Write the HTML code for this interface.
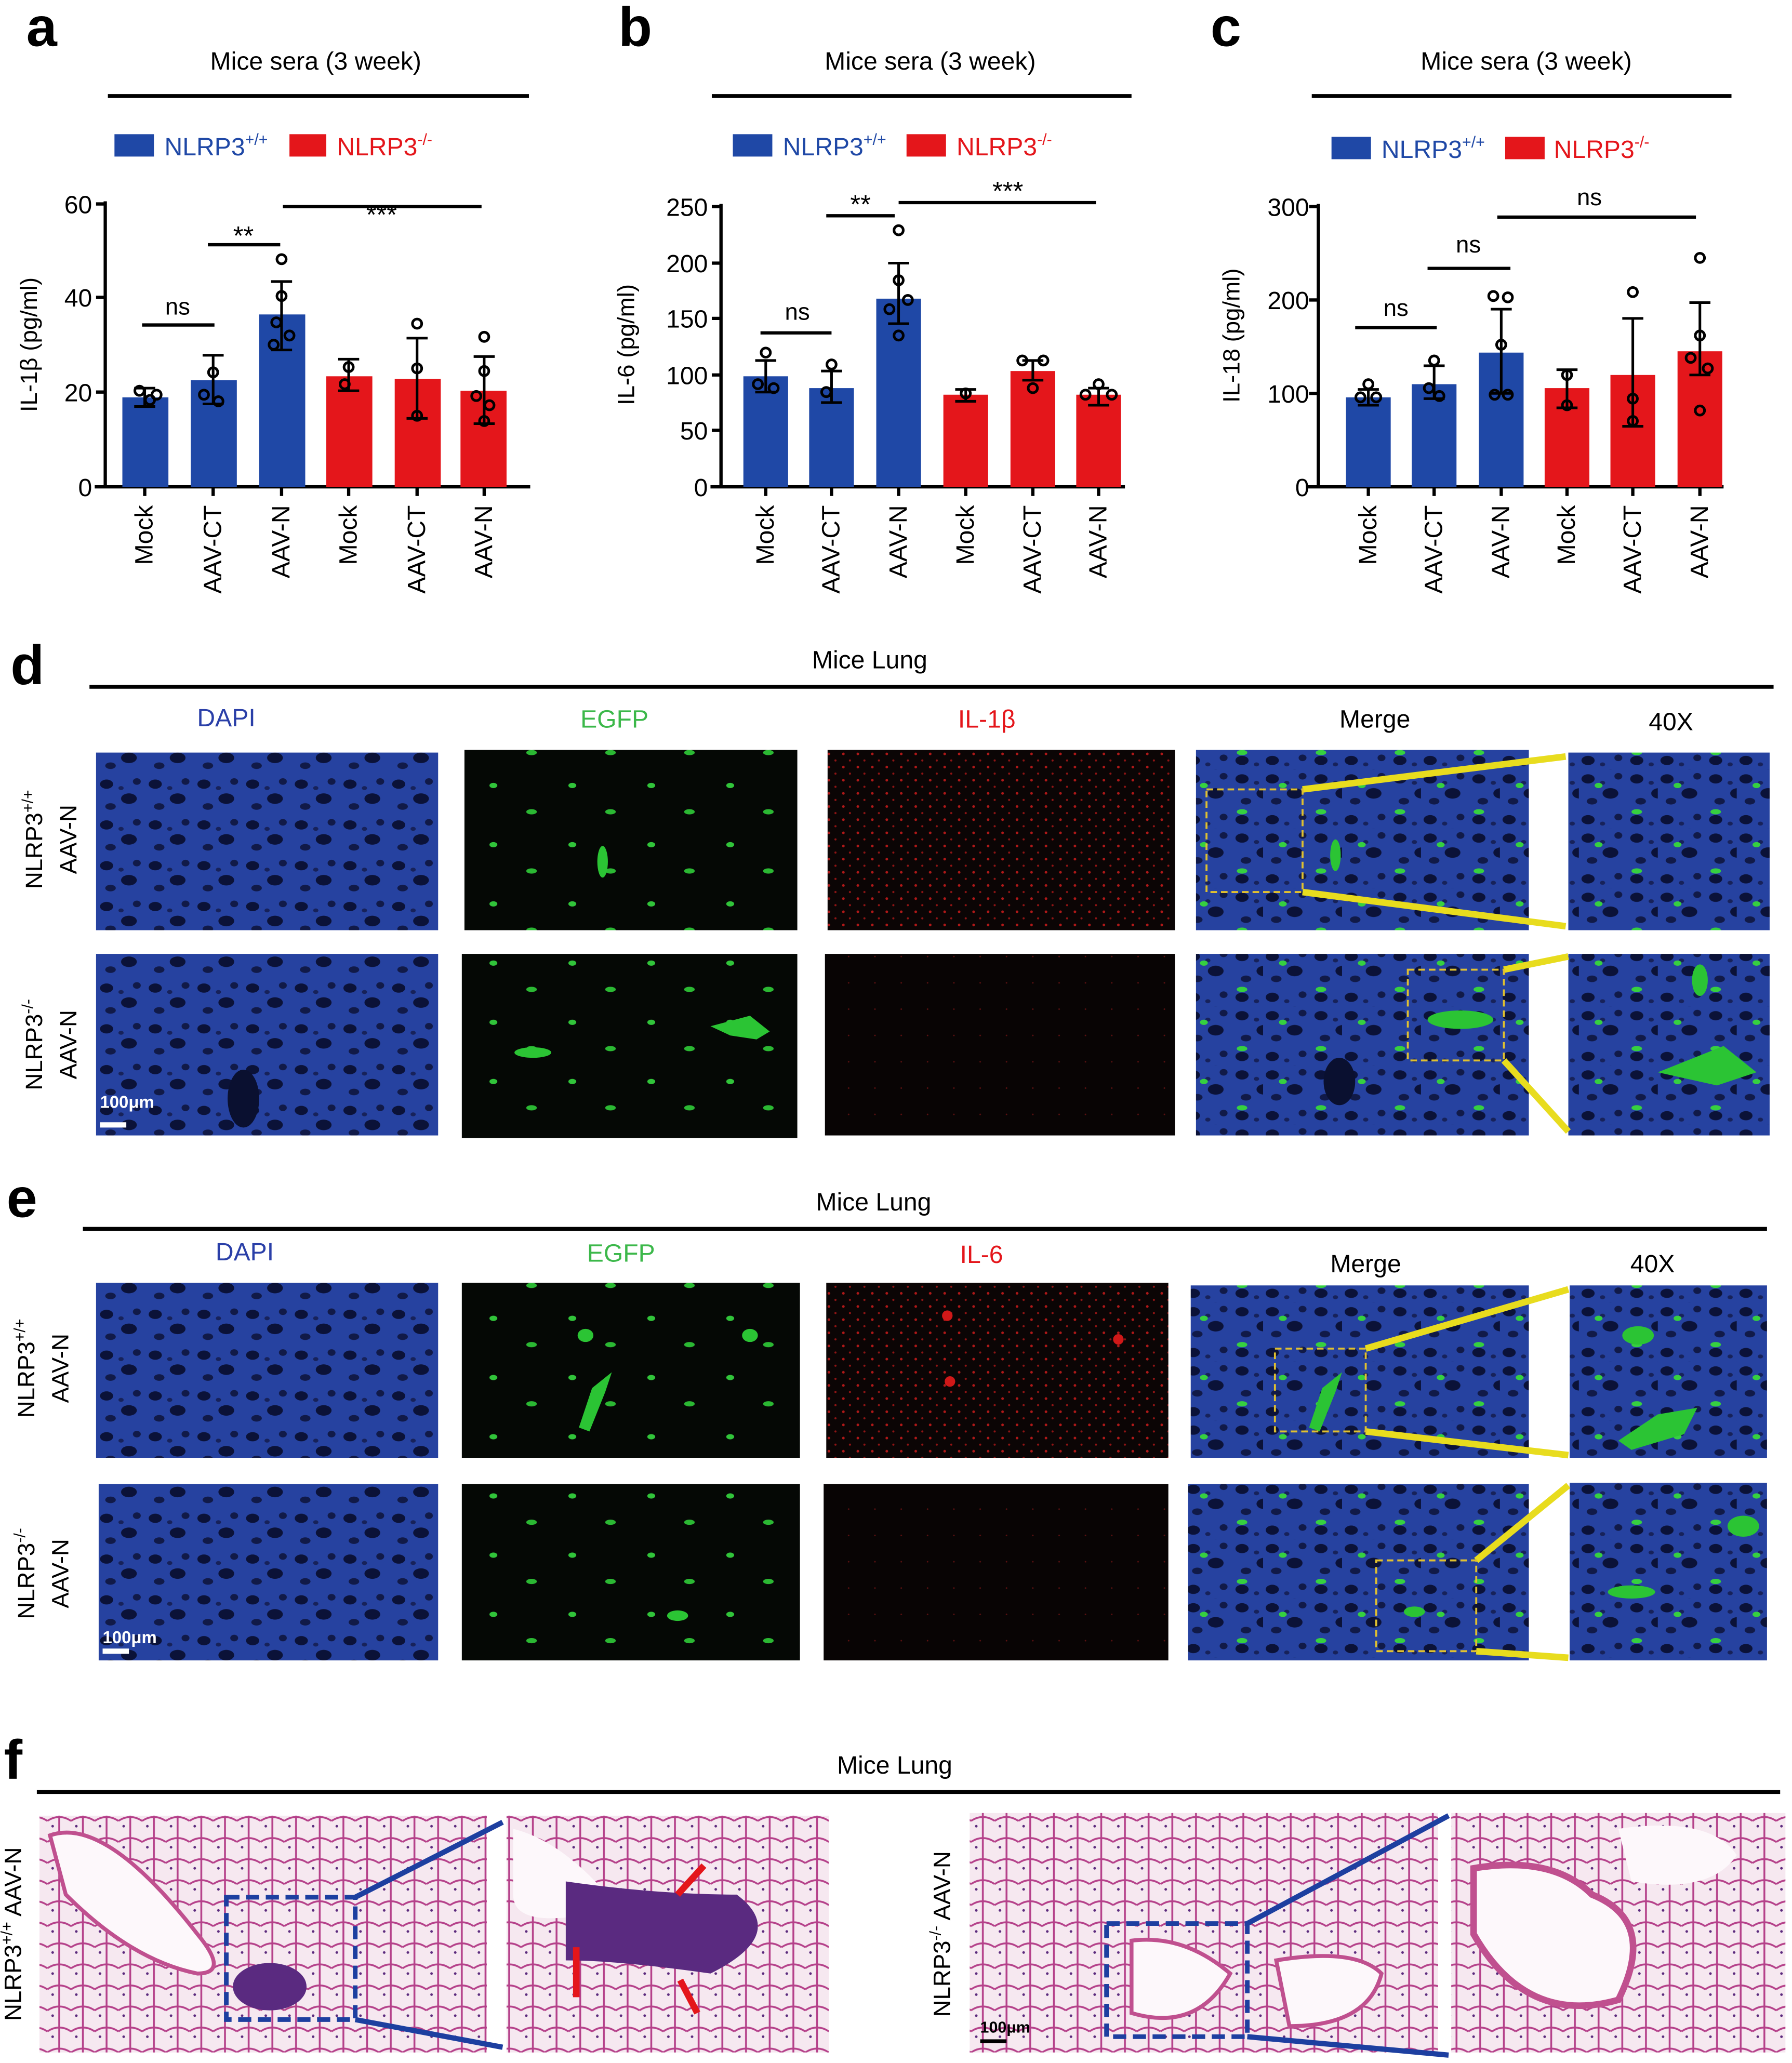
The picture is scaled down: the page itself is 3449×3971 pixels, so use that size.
<!DOCTYPE html>
<html><head><meta charset="utf-8"><style>
html,body{margin:0;padding:0;background:#fff;}
svg{display:block;}
text{font-family:"Liberation Sans",Arial,sans-serif;}
</style></head><body>
<svg width="3449" height="3971" viewBox="0 0 1362 1568" preserveAspectRatio="none" xmlns="http://www.w3.org/2000/svg">
<defs>
<pattern id="dapi" width="37" height="31" patternUnits="userSpaceOnUse">
<rect width="37" height="31" fill="#2642a0"/>
<ellipse cx="7" cy="7" rx="5" ry="3.5" fill="#0b1238"/>
<ellipse cx="24" cy="18" rx="6" ry="4" fill="#0b1238"/>
<ellipse cx="10" cy="24" rx="4" ry="2.5" fill="#111a48"/>
<ellipse cx="30" cy="5" rx="3" ry="2.5" fill="#111a48"/>
<ellipse cx="18" cy="10" rx="2" ry="1.5" fill="#17225a"/>
</pattern>
<pattern id="grn" width="60" height="45" patternUnits="userSpaceOnUse">
<rect width="60" height="45" fill="#050805"/>
<ellipse cx="15" cy="12" rx="3" ry="2" fill="#31c43a"/>
<ellipse cx="44" cy="32" rx="4" ry="2" fill="#2bb833"/>
</pattern>
<pattern id="red" width="11" height="10" patternUnits="userSpaceOnUse">
<rect width="11" height="10" fill="#0b0505"/>
<circle cx="3" cy="3" r="1" fill="#b01818"/>
<circle cx="8" cy="8" r="0.8" fill="#901414"/>
</pattern>
<pattern id="redlow" width="20" height="20" patternUnits="userSpaceOnUse">
<rect width="20" height="20" fill="#080404"/>
<circle cx="5" cy="7" r="0.6" fill="#5a1010"/>
</pattern>
<pattern id="merge" width="60" height="45" patternUnits="userSpaceOnUse">
<rect width="60" height="45" fill="url(#dapi)"/>
<ellipse cx="15" cy="12" rx="3" ry="2" fill="#36d040"/>
<ellipse cx="44" cy="32" rx="4" ry="2" fill="#36d040"/>
</pattern>
<pattern id="he" width="18" height="16" patternUnits="userSpaceOnUse">
<rect width="18" height="16" fill="#f6e8f0"/>
<path d="M0 8 Q9 2 18 8 M9 0 V16" stroke="#b5418a" stroke-width="1.4" fill="none"/>
<circle cx="4" cy="12" r="1" fill="#5b2a7d"/>
</pattern>
</defs>

<!-- panel a -->
<text x="20" y="35" font-size="42" font-weight="bold">a</text>
<text x="240" y="53" font-size="19" text-anchor="middle">Mice sera (3 week)</text>
<line x1="82" y1="73" x2="402" y2="73" stroke="#000" stroke-width="3"/>
<rect x="87" y="102" width="30" height="17" fill="#1f48a6"/>
<text x="125" y="118" font-size="19" fill="#1f48a6">NLRP3<tspan font-size="12" dy="-8">+/+</tspan></text>
<rect x="220" y="102" width="28" height="17" fill="#e4161b"/>
<text x="256" y="118" font-size="19" fill="#e4161b">NLRP3<tspan font-size="12" dy="-8">-/-</tspan></text>
<g font-size="19" text-anchor="end">
<text x="70" y="162">60</text><text x="70" y="233">40</text><text x="70" y="305">20</text><text x="70" y="377">0</text>
</g>
<g stroke="#000" stroke-width="2.5">
<line x1="80" y1="153" x2="80" y2="371"/><line x1="72" y1="370" x2="403" y2="370"/>
<line x1="73" y1="155" x2="80" y2="155"/><line x1="73" y1="226" x2="80" y2="226"/><line x1="73" y1="298" x2="80" y2="298"/>
<line x1="110" y1="370" x2="110" y2="377"/><line x1="162" y1="370" x2="162" y2="377"/><line x1="214" y1="370" x2="214" y2="377"/><line x1="265" y1="370" x2="265" y2="377"/><line x1="317" y1="370" x2="317" y2="377"/><line x1="368" y1="370" x2="368" y2="377"/>
</g>
<text transform="translate(28,262) rotate(-90)" font-size="18" text-anchor="middle">IL-1β (pg/ml)</text>
<rect x="93" y="302" width="35" height="68" fill="#1f48a6"/>
<rect x="145" y="289" width="35" height="81" fill="#1f48a6"/>
<rect x="197" y="239" width="35" height="131" fill="#1f48a6"/>
<rect x="248" y="286" width="35" height="84" fill="#e4161b"/>
<rect x="300" y="288" width="35" height="82" fill="#e4161b"/>
<rect x="350" y="297" width="35" height="73" fill="#e4161b"/>
<g stroke="#000" stroke-width="2" fill="none">
<path d="M110 309V295M102 309h16M102 295h16"/>
<path d="M162 307V270M154 307h16M154 270h16"/>
<path d="M214 266V214M206 266h16M206 214h16"/>
<path d="M265 297V273M257 297h16M257 273h16"/>
<path d="M317 318V257M309 318h16M309 257h16"/>
<path d="M368 322V271M360 322h16M360 271h16"/>
<circle cx="106" cy="297" r="3.5"/><circle cx="114" cy="304" r="3.5"/><circle cx="119" cy="300" r="3.5"/>
<circle cx="162" cy="283" r="3.5"/><circle cx="155" cy="300" r="3.5"/><circle cx="166" cy="305" r="3.5"/>
<circle cx="214" cy="197" r="3.5"/><circle cx="214" cy="225" r="3.5"/><circle cx="210" cy="245" r="3.5"/><circle cx="220" cy="255" r="3.5"/><circle cx="208" cy="262" r="3.5"/>
<circle cx="265" cy="279" r="3.5"/><circle cx="262" cy="292" r="3.5"/>
<circle cx="317" cy="246" r="3.5"/><circle cx="317" cy="280" r="3.5"/><circle cx="317" cy="316" r="3.5"/>
<circle cx="368" cy="256" r="3.5"/><circle cx="368" cy="282" r="3.5"/><circle cx="362" cy="301" r="3.5"/><circle cx="372" cy="308" r="3.5"/><circle cx="368" cy="320" r="3.5"/>
</g>
<g stroke="#000" stroke-width="2.5">
<line x1="108" y1="247" x2="163" y2="247"/><line x1="158" y1="186" x2="213" y2="186"/><line x1="215" y1="157" x2="366" y2="157"/>
</g>
<text x="135" y="239" font-size="18" text-anchor="middle">ns</text>
<text x="185" y="186" font-size="20" text-anchor="middle">**</text>
<text x="290" y="170" font-size="20" text-anchor="middle">***</text>
<g font-size="19" text-anchor="end">
<text transform="translate(116,384) rotate(-90)">Mock</text>
<text transform="translate(168,384) rotate(-90)">AAV-CT</text>
<text transform="translate(220,384) rotate(-90)">AAV-N</text>
<text transform="translate(271,384) rotate(-90)">Mock</text>
<text transform="translate(323,384) rotate(-90)">AAV-CT</text>
<text transform="translate(374,384) rotate(-90)">AAV-N</text>
</g>

<!-- panel b -->
<text x="470" y="35" font-size="42" font-weight="bold">b</text>
<text x="707" y="53" font-size="19" text-anchor="middle">Mice sera (3 week)</text>
<line x1="541" y1="73" x2="860" y2="73" stroke="#000" stroke-width="3"/>
<rect x="557" y="102" width="30" height="17" fill="#1f48a6"/>
<text x="595" y="118" font-size="19" fill="#1f48a6">NLRP3<tspan font-size="12" dy="-8">+/+</tspan></text>
<rect x="689" y="102" width="30" height="17" fill="#e4161b"/>
<text x="727" y="118" font-size="19" fill="#e4161b">NLRP3<tspan font-size="12" dy="-8">-/-</tspan></text>
<g font-size="19" text-anchor="end">
<text x="538" y="164">250</text><text x="538" y="207">200</text><text x="538" y="249">150</text><text x="538" y="292">100</text><text x="538" y="334">50</text><text x="538" y="377">0</text>
</g>
<g stroke="#000" stroke-width="2.5">
<line x1="548" y1="155" x2="548" y2="371"/><line x1="540" y1="370" x2="855" y2="370"/>
<line x1="541" y1="157" x2="548" y2="157"/><line x1="541" y1="200" x2="548" y2="200"/><line x1="541" y1="242" x2="548" y2="242"/><line x1="541" y1="285" x2="548" y2="285"/><line x1="541" y1="327" x2="548" y2="327"/>
<line x1="582" y1="370" x2="582" y2="377"/><line x1="632" y1="370" x2="632" y2="377"/><line x1="683" y1="370" x2="683" y2="377"/><line x1="734" y1="370" x2="734" y2="377"/><line x1="785" y1="370" x2="785" y2="377"/><line x1="835" y1="370" x2="835" y2="377"/>
</g>
<text transform="translate(482,262) rotate(-90)" font-size="18" text-anchor="middle">IL-6 (pg/ml)</text>
<rect x="565" y="286" width="34" height="84" fill="#1f48a6"/>
<rect x="615" y="295" width="34" height="75" fill="#1f48a6"/>
<rect x="666" y="227" width="34" height="143" fill="#1f48a6"/>
<rect x="717" y="300" width="34" height="70" fill="#e4161b"/>
<rect x="768" y="282" width="34" height="88" fill="#e4161b"/>
<rect x="818" y="300" width="34" height="70" fill="#e4161b"/>
<g stroke="#000" stroke-width="2" fill="none">
<path d="M582 298V274M574 298h16M574 274h16"/>
<path d="M632 306V282M624 306h16M624 282h16"/>
<path d="M683 246V200M675 246h16M675 200h16"/>
<path d="M734 305V296M726 305h16M726 296h16"/>
<path d="M785 289V274M777 289h16M777 274h16"/>
<path d="M835 308V295M827 308h16M827 295h16"/>
<circle cx="582" cy="268" r="3.5"/><circle cx="576" cy="292" r="3.5"/><circle cx="588" cy="295" r="3.5"/>
<circle cx="632" cy="277" r="3.5"/><circle cx="628" cy="298" r="3.5"/>
<circle cx="683" cy="175" r="3.5"/><circle cx="683" cy="213" r="3.5"/><circle cx="676" cy="235" r="3.5"/><circle cx="690" cy="228" r="3.5"/><circle cx="683" cy="255" r="3.5"/>
<circle cx="734" cy="299" r="3.5"/>
<circle cx="777" cy="274" r="3.5"/><circle cx="793" cy="274" r="3.5"/><circle cx="785" cy="295" r="3.5"/>
<circle cx="835" cy="292" r="3.5"/><circle cx="825" cy="300" r="3.5"/><circle cx="845" cy="300" r="3.5"/>
</g>
<g stroke="#000" stroke-width="2.5">
<line x1="578" y1="253" x2="632" y2="253"/><line x1="628" y1="164" x2="680" y2="164"/><line x1="683" y1="154" x2="833" y2="154"/>
</g>
<text x="606" y="243" font-size="18" text-anchor="middle">ns</text>
<text x="654" y="162" font-size="20" text-anchor="middle">**</text>
<text x="766" y="152" font-size="20" text-anchor="middle">***</text>
<g font-size="19" text-anchor="end">
<text transform="translate(588,384) rotate(-90)">Mock</text>
<text transform="translate(638,384) rotate(-90)">AAV-CT</text>
<text transform="translate(689,384) rotate(-90)">AAV-N</text>
<text transform="translate(740,384) rotate(-90)">Mock</text>
<text transform="translate(791,384) rotate(-90)">AAV-CT</text>
<text transform="translate(841,384) rotate(-90)">AAV-N</text>
</g>

<!-- panel c -->
<text x="920" y="35" font-size="42" font-weight="bold">c</text>
<text x="1160" y="53" font-size="19" text-anchor="middle">Mice sera (3 week)</text>
<line x1="997" y1="73" x2="1316" y2="73" stroke="#000" stroke-width="3"/>
<rect x="1012" y="104" width="30" height="17" fill="#1f48a6"/>
<text x="1050" y="120" font-size="19" fill="#1f48a6">NLRP3<tspan font-size="12" dy="-8">+/+</tspan></text>
<rect x="1144" y="104" width="30" height="17" fill="#e4161b"/>
<text x="1181" y="120" font-size="19" fill="#e4161b">NLRP3<tspan font-size="12" dy="-8">-/-</tspan></text>
<g font-size="19" text-anchor="end">
<text x="995" y="164">300</text><text x="995" y="235">200</text><text x="995" y="306">100</text><text x="995" y="377">0</text>
</g>
<g stroke="#000" stroke-width="2.5">
<line x1="1002" y1="155" x2="1002" y2="371"/><line x1="994" y1="370" x2="1310" y2="370"/>
<line x1="995" y1="157" x2="1002" y2="157"/><line x1="995" y1="228" x2="1002" y2="228"/><line x1="995" y1="299" x2="1002" y2="299"/>
<line x1="1040" y1="370" x2="1040" y2="377"/><line x1="1090" y1="370" x2="1090" y2="377"/><line x1="1141" y1="370" x2="1141" y2="377"/><line x1="1191" y1="370" x2="1191" y2="377"/><line x1="1241" y1="370" x2="1241" y2="377"/><line x1="1292" y1="370" x2="1292" y2="377"/>
</g>
<text transform="translate(942,255) rotate(-90)" font-size="18" text-anchor="middle">IL-18 (pg/ml)</text>
<rect x="1023" y="302" width="34" height="68" fill="#1f48a6"/>
<rect x="1073" y="292" width="34" height="78" fill="#1f48a6"/>
<rect x="1124" y="268" width="34" height="102" fill="#1f48a6"/>
<rect x="1174" y="295" width="34" height="75" fill="#e4161b"/>
<rect x="1224" y="285" width="34" height="85" fill="#e4161b"/>
<rect x="1275" y="267" width="34" height="103" fill="#e4161b"/>
<g stroke="#000" stroke-width="2" fill="none">
<path d="M1040 308V296M1032 308h16M1032 296h16"/>
<path d="M1090 303V278M1082 303h16M1082 278h16"/>
<path d="M1141 299V235M1133 299h16M1133 235h16"/>
<path d="M1191 310V281M1183 310h16M1183 281h16"/>
<path d="M1241 324V242M1233 324h16M1233 242h16"/>
<path d="M1292 285V230M1284 285h16M1284 230h16"/>
<circle cx="1040" cy="292" r="3.5"/><circle cx="1034" cy="302" r="3.5"/><circle cx="1046" cy="302" r="3.5"/>
<circle cx="1090" cy="274" r="3.5"/><circle cx="1086" cy="295" r="3.5"/><circle cx="1094" cy="301" r="3.5"/>
<circle cx="1135" cy="225" r="3.5"/><circle cx="1146" cy="226" r="3.5"/><circle cx="1141" cy="262" r="3.5"/><circle cx="1136" cy="300" r="3.5"/><circle cx="1146" cy="300" r="3.5"/>
<circle cx="1191" cy="285" r="3.5"/><circle cx="1191" cy="308" r="3.5"/>
<circle cx="1241" cy="222" r="3.5"/><circle cx="1241" cy="303" r="3.5"/><circle cx="1241" cy="320" r="3.5"/>
<circle cx="1292" cy="196" r="3.5"/><circle cx="1292" cy="255" r="3.5"/><circle cx="1285" cy="272" r="3.5"/><circle cx="1298" cy="280" r="3.5"/><circle cx="1292" cy="312" r="3.5"/>
</g>
<g stroke="#000" stroke-width="2.5">
<line x1="1030" y1="249" x2="1092" y2="249"/><line x1="1085" y1="204" x2="1148" y2="204"/><line x1="1138" y1="165" x2="1289" y2="165"/>
</g>
<text x="1061" y="240" font-size="18" text-anchor="middle">ns</text>
<text x="1116" y="192" font-size="18" text-anchor="middle">ns</text>
<text x="1208" y="156" font-size="18" text-anchor="middle">ns</text>
<g font-size="19" text-anchor="end">
<text transform="translate(1046,384) rotate(-90)">Mock</text>
<text transform="translate(1096,384) rotate(-90)">AAV-CT</text>
<text transform="translate(1147,384) rotate(-90)">AAV-N</text>
<text transform="translate(1197,384) rotate(-90)">Mock</text>
<text transform="translate(1247,384) rotate(-90)">AAV-CT</text>
<text transform="translate(1298,384) rotate(-90)">AAV-N</text>
</g>

<!-- panel d -->
<text x="8" y="520" font-size="42" font-weight="bold">d</text>
<text x="661" y="508" font-size="19" text-anchor="middle">Mice Lung</text>
<line x1="68" y1="522" x2="1348" y2="522" stroke="#000" stroke-width="3"/>
<g font-size="19" text-anchor="middle">
<text x="172" y="552" fill="#2a3fa8">DAPI</text>
<text x="467" y="553" fill="#3cb84a">EGFP</text>
<text x="750" y="553" fill="#e4161b">IL-1β</text>
<text x="1045" y="553">Merge</text>
<text x="1270" y="555">40X</text>
</g>
<g font-size="18" text-anchor="middle">
<text transform="translate(32,638) rotate(-90)">NLRP3<tspan font-size="12" dy="-7">+/+</tspan></text>
<text transform="translate(58,638) rotate(-90)">AAV-N</text>
<text transform="translate(32,794) rotate(-90)">NLRP3<tspan font-size="12" dy="-7">-/-</tspan></text>
<text transform="translate(58,794) rotate(-90)">AAV-N</text>
</g>
<rect x="73" y="572" width="260" height="135" fill="url(#dapi)"/>
<rect x="353" y="570" width="253" height="137" fill="url(#grn)"/>
<rect x="629" y="570" width="264" height="137" fill="url(#red)"/>
<rect x="909" y="570" width="253" height="137" fill="url(#merge)"/>
<rect x="1192" y="572" width="153" height="135" fill="url(#merge)"/>
<rect x="73" y="725" width="260" height="138" fill="url(#dapi)"/>
<rect x="351" y="725" width="255" height="140" fill="url(#grn)"/>
<rect x="627" y="725" width="266" height="138" fill="url(#redlow)"/>
<rect x="909" y="725" width="253" height="138" fill="url(#merge)"/>
<rect x="1192" y="725" width="153" height="138" fill="url(#merge)"/>
<g fill="#2bc434">
<path d="M540 780 l30 -8 l15 12 l-10 6 l-20 -3z"/><ellipse cx="405" cy="800" rx="14" ry="4"/><ellipse cx="1110" cy="775" rx="25" ry="7"/>
<path d="M1260 815 l50 -20 l25 20 l-30 10z"/><ellipse cx="1292" cy="745" rx="6" ry="12"/>
<ellipse cx="458" cy="655" rx="4" ry="12"/><ellipse cx="1015" cy="650" rx="4" ry="12"/>
</g>
<ellipse cx="185" cy="835" rx="12" ry="22" fill="#0a1030"/>
<ellipse cx="1018" cy="822" rx="12" ry="18" fill="#0a1030"/>
<text x="76" y="842" font-size="13" fill="#fff" font-weight="bold">100μm</text>
<rect x="76" y="853" width="20" height="4" fill="#fff"/>
<g stroke="#e8dc1e" stroke-width="5">
<line x1="990" y1="600" x2="1190" y2="575"/><line x1="990" y1="678" x2="1190" y2="704"/>
<line x1="1143" y1="737" x2="1192" y2="727"/><line x1="1143" y1="806" x2="1192" y2="860"/>
</g>
<g stroke="#e0c030" stroke-width="1.5" stroke-dasharray="5,3" fill="none">
<rect x="917" y="600" width="73" height="78"/><rect x="1070" y="737" width="73" height="69"/>
</g>

<!-- panel e -->
<text x="5" y="925" font-size="42" font-weight="bold">e</text>
<text x="664" y="920" font-size="19" text-anchor="middle">Mice Lung</text>
<line x1="63" y1="934" x2="1343" y2="934" stroke="#000" stroke-width="3"/>
<g font-size="19" text-anchor="middle">
<text x="186" y="958" fill="#2a3fa8">DAPI</text>
<text x="472" y="959" fill="#3cb84a">EGFP</text>
<text x="746" y="960" fill="#e4161b">IL-6</text>
<text x="1038" y="967">Merge</text>
<text x="1256" y="967">40X</text>
</g>
<g font-size="18" text-anchor="middle">
<text transform="translate(26,1040) rotate(-90)">NLRP3<tspan font-size="12" dy="-7">+/+</tspan></text>
<text transform="translate(52,1040) rotate(-90)">AAV-N</text>
<text transform="translate(26,1196) rotate(-90)">NLRP3<tspan font-size="12" dy="-7">-/-</tspan></text>
<text transform="translate(52,1196) rotate(-90)">AAV-N</text>
</g>
<rect x="73" y="975" width="260" height="133" fill="url(#dapi)"/>
<rect x="351" y="975" width="257" height="133" fill="url(#grn)"/>
<rect x="628" y="975" width="260" height="133" fill="url(#red)"/>
<rect x="905" y="977" width="257" height="131" fill="url(#merge)"/>
<rect x="1193" y="977" width="150" height="131" fill="url(#merge)"/>
<rect x="75" y="1128" width="258" height="134" fill="url(#dapi)"/>
<rect x="351" y="1128" width="257" height="134" fill="url(#grn)"/>
<rect x="626" y="1128" width="262" height="134" fill="url(#redlow)"/>
<rect x="903" y="1128" width="259" height="134" fill="url(#merge)"/>
<rect x="1193" y="1127" width="150" height="135" fill="url(#merge)"/>
<g fill="#2bc434">
<path d="M440 1085 l10 -30 l15 -12 l-5 15 l-12 30z"/><ellipse cx="445" cy="1015" rx="6" ry="5"/><ellipse cx="570" cy="1015" rx="6" ry="5"/>
<path d="M995 1085 l10 -30 l15 -12 l-5 15 l-12 30z"/>
<ellipse cx="1245" cy="1015" rx="12" ry="7"/><path d="M1230 1095 l30 -20 l30 -5 l-10 20 l-40 12z"/>
<ellipse cx="1240" cy="1210" rx="18" ry="5"/><ellipse cx="1325" cy="1160" rx="12" ry="8"/>
<ellipse cx="515" cy="1228" rx="8" ry="4"/><ellipse cx="1075" cy="1225" rx="8" ry="4"/>
</g>
<g fill="#d01818"><circle cx="722" cy="1050" r="4"/><circle cx="720" cy="1000" r="4"/><circle cx="850" cy="1018" r="4"/></g>
<text x="78" y="1249" font-size="13" fill="#fff" font-weight="bold">100μm</text>
<rect x="78" y="1253" width="20" height="4" fill="#fff"/>
<g stroke="#e8dc1e" stroke-width="5">
<line x1="1038" y1="1025" x2="1192" y2="980"/><line x1="1038" y1="1088" x2="1192" y2="1106"/>
<line x1="1122" y1="1186" x2="1192" y2="1129"/><line x1="1122" y1="1255" x2="1192" y2="1260"/>
</g>
<g stroke="#e0c030" stroke-width="1.5" stroke-dasharray="5,3" fill="none">
<rect x="969" y="1025" width="69" height="63"/><rect x="1046" y="1186" width="76" height="69"/>
</g>

<!-- panel f -->
<text x="3" y="1352" font-size="42" font-weight="bold">f</text>
<text x="680" y="1348" font-size="19" text-anchor="middle">Mice Lung</text>
<line x1="28" y1="1362" x2="1353" y2="1362" stroke="#000" stroke-width="3"/>
<text transform="translate(16,1470) rotate(-90)" font-size="18" text-anchor="middle">NLRP3<tspan font-size="12" dy="-7">+/+</tspan><tspan dy="7">  AAV-N</tspan></text>
<text transform="translate(722,1470) rotate(-90)" font-size="18" text-anchor="middle">NLRP3<tspan font-size="12" dy="-7">-/-</tspan><tspan dy="7">  AAV-N</tspan></text>
<rect x="30" y="1380" width="340" height="180" fill="url(#he)"/>
<rect x="385" y="1380" width="245" height="180" fill="url(#he)"/>
<rect x="737" y="1378" width="356" height="182" fill="url(#he)"/>
<rect x="1103" y="1378" width="254" height="182" fill="url(#he)"/>
<path d="M38 1395 Q80 1380 150 1470 Q175 1500 150 1500 Q100 1490 50 1440z" fill="#fdf8fb" stroke="#c0508f" stroke-width="3"/>
<ellipse cx="205" cy="1510" rx="28" ry="18" fill="#5a2a80"/>
<path d="M390 1390 Q430 1400 470 1450 Q390 1470 390 1440z" fill="#fdf8fb"/>
<path d="M430 1430 Q500 1440 560 1440 Q600 1470 540 1500 Q470 1490 430 1490z" fill="#5a2a80"/>
<path d="M1120 1420 Q1180 1410 1210 1440 Q1260 1460 1230 1520 Q1160 1540 1120 1470z" fill="#fdf8fb" stroke="#c0508f" stroke-width="5"/>
<path d="M1230 1390 Q1300 1380 1320 1410 Q1300 1440 1240 1430z" fill="#fdf8fb"/>
<path d="M860 1475 Q900 1470 935 1500 Q910 1545 860 1530z" fill="#fdf8fb" stroke="#c0508f" stroke-width="3"/>
<path d="M970 1490 Q1030 1480 1050 1500 Q1040 1540 980 1540z" fill="#fdf8fb" stroke="#c0508f" stroke-width="3"/>
<g stroke="#e4161b" stroke-width="5">
<line x1="535" y1="1418" x2="515" y2="1440"/><line x1="438" y1="1480" x2="438" y2="1518"/><line x1="530" y1="1530" x2="517" y2="1505"/>
</g>
<g stroke="#1d3fa0" stroke-width="4">
<line x1="270" y1="1442" x2="382" y2="1385"/><line x1="270" y1="1535" x2="382" y2="1556"/>
<line x1="948" y1="1462" x2="1101" y2="1380"/><line x1="948" y1="1548" x2="1101" y2="1562"/>
</g>
<g stroke="#1d3fa0" stroke-width="3.5" stroke-dasharray="10,5" fill="none">
<rect x="172" y="1442" width="98" height="93"/><rect x="841" y="1462" width="107" height="86"/>
</g>
<text x="745" y="1545" font-size="12" font-weight="bold">100μm</text>
<rect x="745" y="1550" width="20" height="3" fill="#000"/>
</svg>
</body></html>
